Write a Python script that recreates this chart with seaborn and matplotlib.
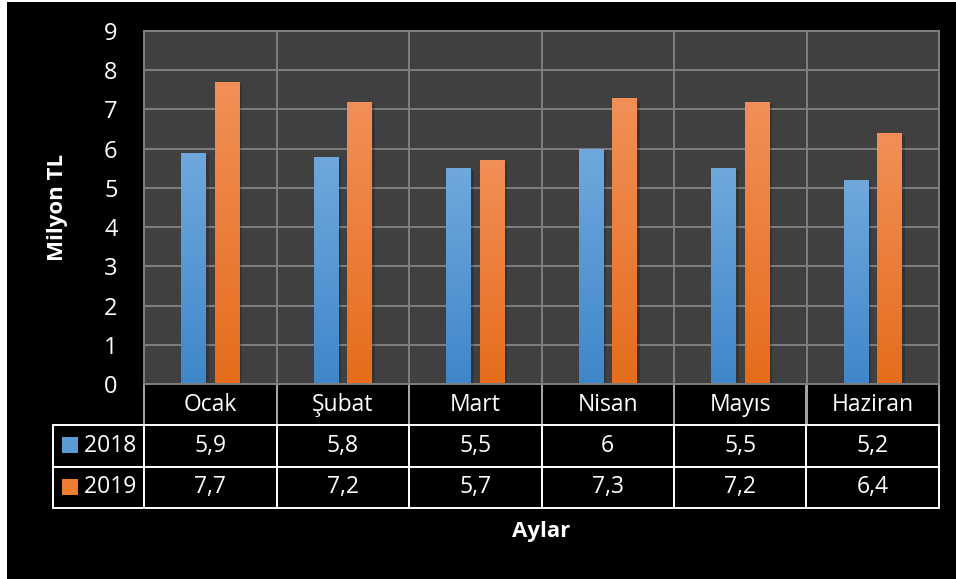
import numpy as np
import pandas as pd
import seaborn as sns
import matplotlib.pyplot as plt
from matplotlib.colors import LinearSegmentedColormap
from matplotlib.patches import Rectangle

months = ["Ocak", "Şubat", "Mart", "Nisan", "Mayıs", "Haziran"]
years = ["2018", "2019"]
v2018 = [5.9, 5.8, 5.5, 6.0, 5.5, 5.2]
v2019 = [7.7, 7.2, 5.7, 7.3, 7.2, 6.4]

BLUE = "#5b9bd5"
ORANGE = "#ed7d31"
# top / bottom colours of the bar gradients
GRAD = {"2018": ("#70a8dd", "#3f87ca"), "2019": ("#f28f58", "#e56d1b")}
GRID = "#7f7f7f"

sns.set_theme(style="dark")
plt.rcParams["font.family"] = ["Open Sans", "DejaVu Sans"]

df = pd.DataFrame({
    "Ay": months * 2,
    "Yil": [years[0]] * len(months) + [years[1]] * len(months),
    "Deger": v2018 + v2019,
})

W, H = 956, 579
fig = plt.figure(figsize=(W / 100, H / 100), dpi=100, facecolor="white")
fig.patches.append(Rectangle((7 / W, 0), 1, 1 - 2 / H, transform=fig.transFigure,
                             facecolor="black", edgecolor="none", zorder=-10))

# plot area in pixels: x 144..939, y 31..384
ax = fig.add_axes([144 / W, 1 - 384 / H, 795 / W, 353 / H])
sns.barplot(df, x="Ay", y="Deger", hue="Yil", palette=[BLUE, ORANGE],
            width=0.5, gap=0.26, saturation=1, legend=False, ax=ax,
            linewidth=0, edgecolor="none")

# gradient fill on each bar
for cont, yr in zip(ax.containers, years):
    cmap = LinearSegmentedColormap.from_list(yr, [GRAD[yr][1], GRAD[yr][0]])
    for bar in cont:
        x0, y0 = bar.get_x(), bar.get_y()
        w, h = bar.get_width(), bar.get_height()
        # soft shadow to the right
        ax.add_patch(Rectangle((x0 + w, y0), w * 0.12, h * 0.99, facecolor="black",
                               alpha=0.18, edgecolor="none", zorder=bar.get_zorder() - 0.1))
        im = ax.imshow(np.linspace(0, 1, 256).reshape(-1, 1), cmap=cmap, origin="lower",
                       extent=[x0, x0 + w, y0, y0 + h], aspect="auto",
                       zorder=bar.get_zorder() + 0.1)
        im.set_clip_path(bar)

ax.set_xlim(-0.5, len(months) - 0.5)
ax.set_ylim(0, 9)
ax.set_yticks(range(10))
ax.set_facecolor("#404040")
ax.set_xticks(np.arange(-0.5, len(months), 1), minor=True)
ax.grid(which="minor", axis="x", color=GRID, lw=1.4)
ax.grid(which="major", axis="y", color=GRID, lw=1.4)
ax.grid(which="major", axis="x", visible=False)
ax.set_axisbelow(True)
for sp in ax.spines.values():
    sp.set_visible(True)
    sp.set_color(GRID)
    sp.set_linewidth(1.4)
ax.tick_params(axis="x", which="both", length=0, labelbottom=False)
ax.tick_params(axis="y", length=0, pad=19, labelsize=17, labelcolor="white")

ax.set_ylabel("Milyon TL", fontsize=16, fontweight="bold", color="white", va="center")
ax.yaxis.set_label_coords((57 - 144) / 795, 0.5)
ax.set_xlabel("Aylar", fontsize=16, fontweight="bold", color="white", va="center")
ax.xaxis.set_label_coords(0.5, (384 - 532) / 353)

# data table under the plot
def fmt(v):
    return f"{v:g}".replace(".", ",")

rows = [["    " + years[0]] + [fmt(v) for v in v2018],
        ["    " + years[1]] + [fmt(v) for v in v2019]]
lab_w = 91 / 795
tbl = ax.table(cellText=rows, colLabels=[""] + months, cellLoc="center",
               colWidths=[lab_w] + [1 / len(months)] * len(months),
               bbox=[-lab_w, -124 / 353, 1 + lab_w, 124 / 353])
tbl.auto_set_font_size(False)
tbl.set_fontsize(16.5)
for (r, c), cell in tbl.get_celld().items():
    cell.set_facecolor("black")
    cell.get_text().set_color("white")
    cell.set_linewidth(1.4)
    if r == 0:
        cell.set_edgecolor("#a6a6a6")
        cell.visible_edges = "" if c == 0 else "LR"
    else:
        cell.set_edgecolor("white")

# legend keys in the table
for i, col in enumerate([BLUE, ORANGE]):
    yc = 445 + 42 * i
    ax.add_patch(Rectangle(((62 - 144) / 795, (384 - yc - 8) / 353), 16 / 795, 16 / 353,
                           transform=ax.transAxes, facecolor=col, edgecolor="none",
                           clip_on=False, zorder=5))

fig.savefig("out.png", dpi=100, facecolor=fig.get_facecolor())
